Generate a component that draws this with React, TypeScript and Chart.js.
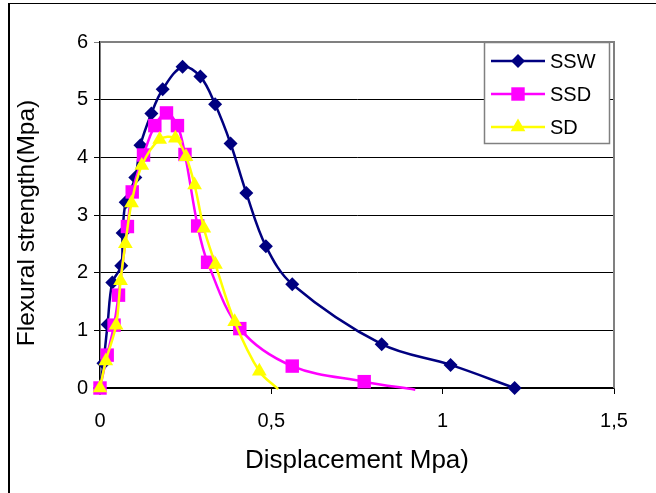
import React, { useEffect, useRef } from 'react';
import { Chart, registerables } from 'chart.js';

Chart.register(...registerables);

// ---- data ----
const seriesNames = ['SSW', 'SSD', 'SD'];

const sswX = [0, 0.01, 0.022, 0.036, 0.062, 0.066, 0.075, 0.103, 0.118, 0.15, 0.183, 0.241, 0.293, 0.336, 0.381, 0.427, 0.484, 0.561, 0.822, 1.023, 1.21];
const sswY = [0, 0.43, 1.1, 1.83, 2.12, 2.69, 3.22, 3.65, 4.21, 4.76, 5.18, 5.57, 5.4, 4.92, 4.24, 3.38, 2.46, 1.8, 0.76, 0.4, 0];

const ssdX = [0, 0.021, 0.041, 0.054, 0.08, 0.094, 0.127, 0.16, 0.194, 0.226, 0.248, 0.285, 0.314, 0.408, 0.561, 0.771, 0.92];
const ssdY = [0, 0.57, 1.09, 1.61, 2.8, 3.4, 4.04, 4.55, 4.77, 4.55, 4.05, 2.81, 2.18, 1.03, 0.38, 0.11, -0.03];

const sdX = [0, 0.017, 0.047, 0.06, 0.074, 0.092, 0.122, 0.174, 0.22, 0.251, 0.276, 0.303, 0.337, 0.393, 0.465, 0.52];
const sdY = [0, 0.47, 1.09, 1.86, 2.5, 3.21, 3.86, 4.31, 4.33, 4.01, 3.52, 2.77, 2.14, 1.15, 0.29, -0.02];

const xTickLabels = ['0', '0,5', '1', '1,5'];
const yTickLabels = ['0', '1', '2', '3', '4', '5', '6'];

const xTitle = 'Displacement Mpa)';
const yTitle = 'Flexural strength(Mpa)';

// ---- styles ----
const colors = ['#000080', '#FF00FF', '#FFFF00'];
const markers = ['rectRot', 'rect', 'triangle'];
const markerRadius = [7, 9.5, 8.5];
const FONT = '"Liberation Sans", Arial, sans-serif';

function toPoints(xs: number[], ys: number[]) {
  return xs.map((x, i) => ({ x, y: ys[i] }));
}

function drawMarker(ctx: CanvasRenderingContext2D, style: string, x: number, y: number, r: number, color: string) {
  ctx.save();
  ctx.fillStyle = color;
  ctx.beginPath();
  if (style === 'rectRot') {
    ctx.moveTo(x - r, y);
    ctx.lineTo(x, y - r);
    ctx.lineTo(x + r, y);
    ctx.lineTo(x, y + r);
  } else if (style === 'rect') {
    const s = r * Math.SQRT1_2;
    ctx.rect(x - s, y - s, 2 * s, 2 * s);
  } else {
    const h = Math.sqrt(3) / 2 * r;
    ctx.moveTo(x, y - r);
    ctx.lineTo(x + h, y + r / 2);
    ctx.lineTo(x - h, y + r / 2);
  }
  ctx.closePath();
  ctx.fill();
  ctx.restore();
}

const framePlugin = {
  id: 'frame',
  beforeDraw(chart: any) {
    const ctx = chart.ctx as CanvasRenderingContext2D;
    ctx.save();
    ctx.fillStyle = '#ffffff';
    ctx.fillRect(0, 0, chart.width, chart.height);
    ctx.fillStyle = '#000000';
    ctx.fillRect(8, 3, 2, chart.height - 3);
    ctx.fillRect(8, 3, chart.width - 8, 1);
    ctx.restore();
  },
  beforeDatasetsDraw(chart: any) {
    const ctx = chart.ctx as CanvasRenderingContext2D;
    const a = chart.chartArea;
    ctx.save();
    ctx.strokeStyle = '#808080';
    ctx.lineWidth = 2;
    ctx.beginPath();
    ctx.moveTo(a.left, a.top);
    ctx.lineTo(a.right, a.top);
    ctx.lineTo(a.right, a.bottom);
    ctx.stroke();
    ctx.restore();
  },
  afterDraw(chart: any) {
    const ctx = chart.ctx as CanvasRenderingContext2D;
    const a = chart.chartArea;
    ctx.save();
    // y axis title
    ctx.save();
    ctx.translate(27, (a.top + a.bottom) / 2 + 8);
    ctx.rotate(-Math.PI / 2);
    ctx.fillStyle = '#000000';
    ctx.font = `24.5px ${FONT}`;
    ctx.textAlign = 'center';
    ctx.textBaseline = 'middle';
    ctx.fillText(yTitle, 0, 0);
    ctx.restore();
    // legend
    const bx = 484, by = 42, bw = 125, bh = 101;
    ctx.fillStyle = '#ffffff';
    ctx.fillRect(bx, by, bw, bh);
    ctx.strokeStyle = '#808080';
    ctx.lineWidth = 1.5;
    ctx.strokeRect(bx + 0.5, by + 0.5, bw, bh);
    chart.data.datasets.forEach((ds: any, i: number) => {
      const y = 61 + i * 33;
      ctx.strokeStyle = colors[i];
      ctx.lineWidth = 2.5;
      ctx.beginPath();
      ctx.moveTo(491, y);
      ctx.lineTo(545, y);
      ctx.stroke();
      drawMarker(ctx, markers[i], 518, y, markerRadius[i], colors[i]);
      ctx.fillStyle = '#000000';
      ctx.font = `20px ${FONT}`;
      ctx.textBaseline = 'middle';
      ctx.textAlign = 'left';
      ctx.fillText(ds.label, 550, y + 1);
    });
    ctx.restore();
  },
};

export default function App() {
  const ref = useRef<HTMLCanvasElement | null>(null);

  useEffect(() => {
    if (!ref.current) return;
    const all = [toPoints(sswX, sswY), toPoints(ssdX, ssdY), toPoints(sdX, sdY)];
    const chart = new Chart(ref.current, {
      type: 'line',
      data: {
        datasets: all.map((pts, i) => ({
          label: seriesNames[i],
          data: pts,
          borderColor: colors[i],
          backgroundColor: colors[i],
          borderWidth: 2.5,
          pointStyle: markers[i] as any,
          pointRadius: (c: any) => (c.raw && c.raw.y < 0 ? 0 : markerRadius[i]),
          pointBorderWidth: 0,
          pointBackgroundColor: colors[i],
          tension: 0.35,
          fill: false,
          order: 2 - i,
          clip: false as any,
        })),
      },
      options: {
        responsive: false,
        animation: false,
        layout: { padding: { left: 0, top: 42, right: 42, bottom: 0 } },
        plugins: { legend: { display: false }, tooltip: { enabled: false } },
        scales: {
          x: {
            type: 'linear',
            min: 0,
            max: 1.5,
            afterFit: (s: any) => { s.height = 105; },
            ticks: {
              stepSize: 0.5,
              color: '#000',
              font: { size: 20, family: FONT },
              padding: 15,
              maxRotation: 0,
              callback: (_v: any, idx: number) => xTickLabels[idx],
            },
            grid: { drawOnChartArea: false, color: '#000', tickLength: 6, lineWidth: 1 },
            border: { color: '#000', width: 1.5 },
            title: {
              display: true,
              text: xTitle,
              color: '#000',
              font: { size: 26, family: FONT },
              padding: { top: 0, bottom: 17 },
            },
          },
          y: {
            type: 'linear',
            min: 0,
            max: 6,
            afterFit: (s: any) => { s.width = 100; },
            ticks: {
              stepSize: 1,
              color: '#000',
              font: { size: 20, family: FONT },
              padding: 6,
              callback: (_v: any, idx: number) => yTickLabels[idx],
            },
            grid: {
              color: (c: any) => (c.tick && c.tick.value === 6 ? '#808080' : '#000'),
              tickLength: 6,
              lineWidth: 1,
            },
            border: { color: '#000', width: 1.5 },
            title: { display: false },
          },
        },
      },
      plugins: [framePlugin],
    } as any);
    return () => chart.destroy();
  }, []);

  return (
    <div style={{ position: 'absolute', left: 0, top: 0, width: 656, height: 493 }}>
      <canvas ref={ref} width={656} height={493} style={{ display: 'block' }} />
    </div>
  );
}
